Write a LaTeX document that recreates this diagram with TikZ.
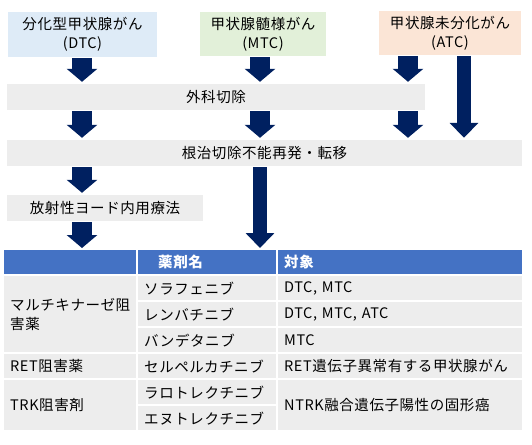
\documentclass[tikz,border=0pt]{standalone}
\usepackage{fontspec}
\setmainfont{Noto Sans CJK JP}[LetterSpace=4]
\usetikzlibrary{arrows.meta}
\definecolor{navy}{RGB}{0,32,96}
\definecolor{dtcblue}{RGB}{222,235,247}
\definecolor{mtcgreen}{RGB}{226,240,217}
\definecolor{atcpeach}{RGB}{251,229,214}
\definecolor{bargray}{RGB}{237,237,237}
\definecolor{headblue}{RGB}{68,114,196}
\tikzset{
  box/.style={inner sep=0pt, align=center, font=\fontsize{14.5}{19}\selectfont},
  fat/.style={navy, line width=20pt, -{Triangle[width=30pt,length=13pt]}},
  slim/.style={navy, line width=14pt, -{Triangle[width=28pt,length=15pt]}},
  cell/.style={fill=bargray, anchor=north west, inner xsep=6pt, inner ysep=0pt,
    align=left, font=\fontsize{14.5}{19}\selectfont},
  head/.style={cell, fill=headblue, text=white, minimum height=24pt, font=\fontsize{14.5}{19}\selectfont\bfseries}
}

\begin{document}
\begin{tikzpicture}[x=1pt,y=-1pt]
    \useasboundingbox (0,0) rectangle (532,444);
    \node[box, fill=dtcblue, minimum width=149pt, minimum height=45pt] (dtc) at (82.5,34.5) {分化型甲状腺がん\\(DTC)};
    \node[box, fill=mtcgreen, minimum width=126pt, minimum height=44pt] (mtc) at (263,34) {甲状腺髄様がん\\(MTC)};
    \node[box, fill=atcpeach, minimum width=142pt, minimum height=44pt] (atc) at (450,33) {甲状腺未分化がん\\(ATC)};
    \node[box, fill=bargray, minimum width=418pt, minimum height=26pt] (surg) at (216,97) {外科切除};
    \node[box, fill=bargray, minimum width=515pt, minimum height=26pt] (unres) at (264.5,153) {根治切除不能再発・転移};
    \node[box, fill=bargray, minimum width=196pt, minimum height=26pt] (rai) at (105,208) {放射性ヨード内用療法};
    \coordinate (dcol) at (82,0);
    \coordinate (mcol) at (260,0);
    \coordinate (acol) at (408,0);
    \coordinate (along) at (464,0);
    \begin{scope}[shorten <=1pt, shorten >=2pt]
      \draw[fat] (dtc.south -| dcol) -- (surg.north -| dcol);
      \draw[fat] (mtc.south -| mcol) -- (surg.north -| mcol);
      \draw[fat] (atc.south -| acol) -- (surg.north -| acol);
      \draw[fat] (surg.south -| dcol) -- (unres.north -| dcol);
      \draw[fat] (surg.south -| mcol) -- (unres.north -| mcol);
      \draw[fat] (surg.south -| acol) -- (unres.north -| acol);
      \draw[slim] (atc.south -| along) -- (unres.north -| along);
      \draw[fat] (unres.south -| dcol) -- (rai.north -| dcol);
    \end{scope}
    \node[head, text width=120pt] (hd1) at (4,250) {};
    \node[head, text width=98pt, inner xsep=20pt] (hd2) at (138,250) {薬剤名};
    \node[head, text width=232pt] (hd3) at (278,250) {対象};
    \begin{scope}[shorten <=1pt, shorten >=2pt]
      \draw[fat] (rai.south -| dcol) -- (hd1.north -| dcol);
      \draw[slim] (unres.south -| mcol) -- (hd2.north -| mcol);
    \end{scope}
    \node[cell, text width=120pt, minimum height=76pt] (multi) at (4,276) {マルチキナーゼ阻\\害薬};
    \node[cell, text width=120pt, minimum height=24pt] (ret) at (4,354) {RET阻害薬};
    \node[cell, text width=120pt, minimum height=50pt] (trk) at (4,380) {TRK阻害剤};
    \node[cell, text width=126pt, minimum height=24pt] (sora) at (138,276) {ソラフェニブ};
    \node[cell, text width=126pt, minimum height=24pt] (lenva) at (138,302) {レンバチニブ};
    \node[cell, text width=126pt, minimum height=24pt] (vande) at (138,328) {バンデタニブ};
    \node[cell, text width=126pt, minimum height=24pt] (selp) at (138,354) {セルペルカチニブ};
    \node[cell, text width=126pt, minimum height=24pt] (laro) at (138,380) {ラロトレクチニブ};
    \node[cell, text width=126pt, minimum height=24pt] (entr) at (138,406) {エヌトレクチニブ};
    \node[cell, text width=232pt, minimum height=24pt] (tsora) at (278,276) {DTC, MTC};
    \node[cell, text width=232pt, minimum height=24pt] (tlenva) at (278,302) {DTC, MTC, ATC};
    \node[cell, text width=232pt, minimum height=24pt] (tvande) at (278,328) {MTC};
    \node[cell, text width=232pt, minimum height=24pt] (tselp) at (278,354) {RET遺伝子異常有する甲状腺がん};
    \node[cell, text width=232pt, minimum height=50pt] (ttrk) at (278,380) {NTRK融合遺伝子陽性の固形癌};
\end{tikzpicture}
\end{document}
